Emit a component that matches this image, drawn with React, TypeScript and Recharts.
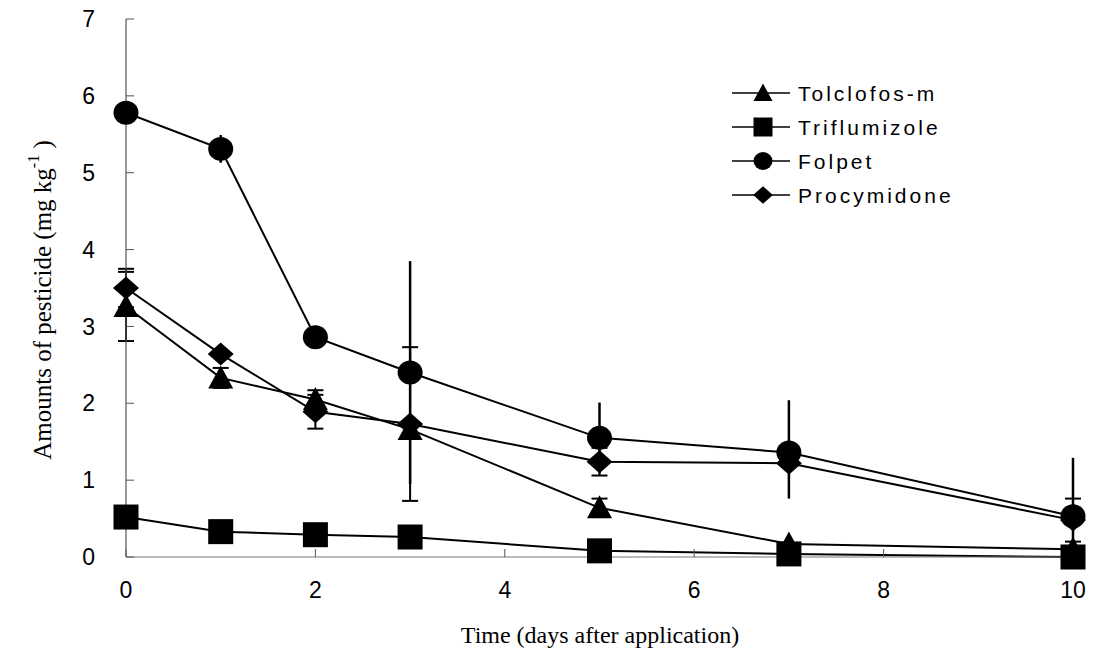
import React from 'react';
import { LineChart, Line, XAxis, YAxis, ErrorBar } from 'recharts';

const days = [0, 1, 2, 3, 5, 7, 10];
const tolclofos = [3.26, 2.33, 2.05, 1.66, 0.64, 0.17, 0.1];
const tolclofosErr = [0.45, 0.13, 0.12, 0, 0.12, 0, 0];
const triflumizole = [0.52, 0.33, 0.29, 0.26, 0.08, 0.04, 0.0];
const folpet = [5.78, 5.31, 2.86, 2.4, 1.55, 1.36, 0.53];
const folpetErrLow = [0, 0.18, 0.1, 1.45, 0.46, 0.6, 0.52];
const folpetErrHigh = [0, 0.18, 0.1, 1.45, 0.46, 0.68, 0.76];
const procymidone = [3.5, 2.64, 1.89, 1.73, 1.24, 1.22, 0.48];
const procymidoneErr = [0.25, 0, 0.22, 1.0, 0.18, 0, 0.28];

const xTicks = [0, 2, 4, 6, 8, 10];
const yTicks = [0, 1, 2, 3, 4, 5, 6, 7];

const seriesNames = ['Tolclofos-m', 'Triflumizole', 'Folpet', 'Procymidone'];
const seriesShapes = ['triangle', 'square', 'circle', 'diamond'];

const data = days.map((d, i) => ({
  day: d,
  tol: tolclofos[i],
  tolErr: tolclofosErr[i],
  tri: triflumizole[i],
  fol: folpet[i],
  folErr: [folpetErrLow[i], folpetErrHigh[i]],
  pro: procymidone[i],
  proErr: procymidoneErr[i],
}));

function Marker({ type, cx, cy, s }: { type: string; cx: number; cy: number; s: number }) {
  switch (type) {
    case 'circle':
      return <ellipse cx={cx} cy={cy} rx={s / 2} ry={s / 2 - 0.5} fill="#000" />;
    case 'square':
      return <rect x={cx - s / 2} y={cy - s / 2} width={s} height={s} fill="#000" />;
    case 'triangle':
      return (
        <polygon
          points={`${cx},${cy - s * 0.5} ${cx + s * 0.5},${cy + s * 0.42} ${cx - s * 0.5},${cy + s * 0.42}`}
          fill="#000"
        />
      );
    default:
      return (
        <polygon
          points={`${cx},${cy - s * 0.46} ${cx + s * 0.52},${cy} ${cx},${cy + s * 0.46} ${cx - s * 0.52},${cy}`}
          fill="#000"
        />
      );
  }
}

const makeDot = (type: string, s: number) => (props: any) => {
  const { cx, cy, index } = props;
  if (cx == null || cy == null) return <g key={`${type}-${index}`} />;
  return <Marker key={`${type}-${index}`} type={type} cx={cx} cy={cy} s={s} />;
};

const YTitle = () => (
  <text
    x={51}
    y={300}
    transform="rotate(-90 51 300)"
    textAnchor="middle"
    fontFamily="'Liberation Serif', 'Times New Roman', serif"
    fontSize={25}
    fill="#000"
  >
    Amounts of pesticide (mg kg
    <tspan fontSize={16} dy={-12}>-1</tspan>
    <tspan dy={12}> )</tspan>
  </text>
);

const XTitle = () => (
  <text
    x={600}
    y={643}
    textAnchor="middle"
    fontFamily="'Liberation Serif', 'Times New Roman', serif"
    fontSize={24}
    fill="#000"
  >
    Time (days after application)
  </text>
);

const LegendBox = () => (
  <svg width={270} height={140} style={{ display: 'block' }}>
    {seriesNames.map((name, i) => {
      const y = 17 + i * 34;
      return (
        <g key={name}>
          <line x1={0} y1={y} x2={58} y2={y} stroke="#000" strokeWidth={1.6} />
          <Marker type={seriesShapes[i]} cx={31} cy={y} s={19} />
          <text
            x={66}
            y={y}
            dominantBaseline="central"
            fontFamily="'Liberation Sans', Arial, sans-serif"
            fontSize={21}
            letterSpacing={3}
            fill="#000"
          >
            {name}
          </text>
        </g>
      );
    })}
  </svg>
);

const tickFont = { fontFamily: "'Liberation Sans', Arial, sans-serif", fontSize: 23, fill: '#000' };

export default function App() {
  return (
    <div style={{ position: 'absolute', left: 0, top: 0, width: 1094, height: 655, background: '#fff' }}>
      <LineChart width={1094} height={655} data={data} margin={{ top: 19, right: 21, bottom: 0, left: 0 }}>
        <XAxis
          dataKey="day"
          type="number"
          domain={[0, 10]}
          ticks={xTicks}
          height={98}
          tickSize={-8}
          tickMargin={33}
          tick={tickFont}
          axisLine={{ stroke: '#777', strokeWidth: 1.2 }}
          tickLine={{ stroke: '#555' }}
          label={<XTitle />}
        />
        <YAxis
          type="number"
          domain={[0, 7]}
          ticks={yTicks}
          width={126}
          tickSize={-8}
          tickMargin={39}
          tick={tickFont}
          axisLine={{ stroke: '#555', strokeWidth: 1.2 }}
          tickLine={{ stroke: '#555' }}
          label={<YTitle />}
        />
        <Line
          dataKey="tri"
          stroke="#000"
          strokeWidth={2}
          isAnimationActive={false}
          dot={makeDot('square', 25)}
          activeDot={false}
        />
        <Line
          dataKey="tol"
          stroke="#000"
          strokeWidth={2}
          isAnimationActive={false}
          dot={makeDot('triangle', 25)}
          activeDot={false}
        >
          <ErrorBar dataKey="tolErr" width={8} stroke="#000" strokeWidth={2} direction="y" isAnimationActive={false} />
        </Line>
        <Line
          dataKey="pro"
          stroke="#000"
          strokeWidth={2}
          isAnimationActive={false}
          dot={makeDot('diamond', 25)}
          activeDot={false}
        >
          <ErrorBar dataKey="proErr" width={8} stroke="#000" strokeWidth={2} direction="y" isAnimationActive={false} />
        </Line>
        <Line
          dataKey="fol"
          stroke="#000"
          strokeWidth={2}
          isAnimationActive={false}
          dot={makeDot('circle', 25)}
          activeDot={false}
        >
          <ErrorBar dataKey="folErr" width={0} stroke="#000" strokeWidth={2.5} direction="y" isAnimationActive={false} />
        </Line>
      </LineChart>
      <div style={{ position: 'absolute', left: 732, top: 76 }}>
        <LegendBox />
      </div>
    </div>
  );
}
